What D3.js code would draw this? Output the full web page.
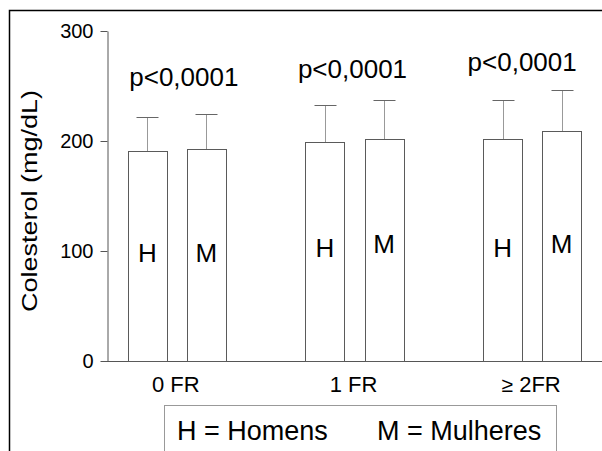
<!DOCTYPE html>
<html>
<head>
<meta charset="utf-8">
<script src="https://cdn.jsdelivr.net/npm/d3@7"></script>
<style>
  body { margin: 0; background: #fff; }
  text { font-family: Arial, "Liberation Sans", sans-serif; fill: #000; }
</style>
</head>
<body>
<div id="graph"><svg></svg></div>
<script>
// data
let groups = ["0 FR", "1 FR", "2FR"];
let sexes = ["H", "M"];
let meanH = [191, 199, 201.5];
let meanM = [192.5, 201.5, 209.5];
let sdH = [31, 34, 36];
let sdM = [32, 36, 36.5];
let pLabels = ["p<0,0001", "p<0,0001", "p<0,0001"];
let yTicks = [0, 100, 200, 300];
let legendItems = ["H = Homens", "M = Mulheres"];

let width = 602, height = 451;

let svg = d3.select("#graph svg").attr("width", width).attr("height", height);

// outer frame (right and bottom sides run off the picture)
svg.append("rect")
  .attr("x", 9.5).attr("y", 10.5)
  .attr("width", 620).attr("height", 470)
  .attr("fill", "none")
  .attr("stroke", "#000")
  .attr("stroke-width", 1.5);

// scales
let yScale = d3.scaleLinear().domain([0, 300]).range([361, 31]);

let x0 = d3.scaleBand().domain(groups).range([88, 621]).padding(0);
let x1 = d3.scaleBand().domain(sexes).range([0, 98]).paddingInner(0.339);
let groupStart = (g) => x0(g) + (x0.bandwidth() - 98) / 2;
let groupCenter = (g) => x0(g) + x0.bandwidth() / 2;

// build the rows
let rows = [];
groups.forEach((g, i) => {
  rows.push({ group: g, sex: "H", mean: meanH[i], sd: sdH[i], gi: i });
  rows.push({ group: g, sex: "M", mean: meanM[i], sd: sdM[i], gi: i });
});

// y axis
let yAxis = svg.append("g")
  .attr("transform", "translate(107.5,0)")
  .call(d3.axisLeft(yScale).tickValues(yTicks).tickSize(7).tickPadding(7).tickSizeOuter(0));
yAxis.select(".domain").attr("stroke", "#555");
yAxis.selectAll(".tick line").attr("stroke", "#555");
yAxis.selectAll(".tick text")
  .style("font-family", "Arial, 'Liberation Sans', sans-serif")
  .style("font-size", "20px")
  .attr("fill", "#000");

// baseline (x axis line), runs to the right edge
svg.append("line")
  .attr("x1", 107).attr("x2", 610)
  .attr("y1", yScale(0) + 0.5).attr("y2", yScale(0) + 0.5)
  .attr("stroke", "#555");

// bars
svg.selectAll("rect.bar")
  .data(rows)
  .enter()
  .append("rect")
  .attr("class", "bar")
  .attr("x", (d) => Math.round(groupStart(d.group) + x1(d.sex)) + 0.5)
  .attr("y", (d) => Math.round(yScale(d.mean)) + 0.5)
  .attr("width", x1.bandwidth())
  .attr("height", (d) => Math.round(yScale(0)) - Math.round(yScale(d.mean)))
  .attr("fill", "#fff")
  .attr("stroke", "#5a5a5a");

// error bars (upper only)
let errCx = (d) => Math.round(groupStart(d.group) + x1(d.sex) + x1.bandwidth() / 2) + 0.5;
svg.selectAll("line.err")
  .data(rows)
  .enter()
  .append("line")
  .attr("class", "err")
  .attr("x1", errCx).attr("x2", errCx)
  .attr("y1", (d) => Math.round(yScale(d.mean)))
  .attr("y2", (d) => Math.round(yScale(d.mean + d.sd)))
  .attr("stroke", "#999");

svg.selectAll("line.cap")
  .data(rows)
  .enter()
  .append("line")
  .attr("class", "cap")
  .attr("x1", (d) => errCx(d) - 11).attr("x2", (d) => errCx(d) + 11)
  .attr("y1", (d) => Math.round(yScale(d.mean + d.sd)) + 0.5)
  .attr("y2", (d) => Math.round(yScale(d.mean + d.sd)) + 0.5)
  .attr("stroke", "#666");

// H / M letters inside the bars (hand placed heights in data units)
let letterLevel = { "0 FR": { H: 90, M: 90 }, "1 FR": { H: 95, M: 98 }, "2FR": { H: 95, M: 98 } };
svg.selectAll("text.letter")
  .data(rows)
  .enter()
  .append("text")
  .attr("class", "letter")
  .attr("x", (d) => groupStart(d.group) + x1(d.sex) + x1.bandwidth() / 2)
  .attr("y", (d) => yScale(letterLevel[d.group][d.sex]))
  .attr("text-anchor", "middle")
  .style("font-size", "26px")
  .text((d) => d.sex);

// p-values above each group
let pOffsetX = [7, -2, -10];
let pLevel = [250, 257, 263.5];
svg.selectAll("text.pval")
  .data(pLabels)
  .enter()
  .append("text")
  .attr("class", "pval")
  .attr("x", (d, i) => groupCenter(groups[i]) + pOffsetX[i])
  .attr("y", (d, i) => yScale(pLevel[i]))
  .attr("text-anchor", "middle")
  .style("font-size", "26px")
  .text((d) => d);

// x category labels
let xLab = svg.selectAll("text.xlab")
  .data(groups)
  .enter()
  .append("text")
  .attr("class", "xlab")
  .attr("x", (d) => groupCenter(d) - 1)
  .attr("y", 392)
  .attr("text-anchor", "middle")
  .style("font-size", "22px");
xLab.each(function (d) {
  let t = d3.select(this);
  if (d == "2FR") {
    t.append("tspan").style("font-size", "21px").text("\u2265");
    t.append("tspan").text(" " + d);
  } else {
    t.text(d);
  }
});

// y title
svg.append("text")
  .attr("transform", "translate(37,201) rotate(-90)")
  .attr("text-anchor", "middle")
  .attr("textLength", 222)
  .attr("lengthAdjust", "spacingAndGlyphs")
  .style("font-size", "22px")
  .text("Colesterol (mg/dL)");

// legend box
svg.append("rect")
  .attr("x", 164.5).attr("y", 405.5)
  .attr("width", 392).attr("height", 80)
  .attr("fill", "#fff")
  .attr("stroke", "#999");

let legendX = [177, 377];
svg.selectAll("text.leg")
  .data(legendItems)
  .enter()
  .append("text")
  .attr("class", "leg")
  .attr("x", (d, i) => legendX[i])
  .attr("y", 440)
  .style("font-size", "27px")
  .text((d) => d);
</script>
</body>
</html>
